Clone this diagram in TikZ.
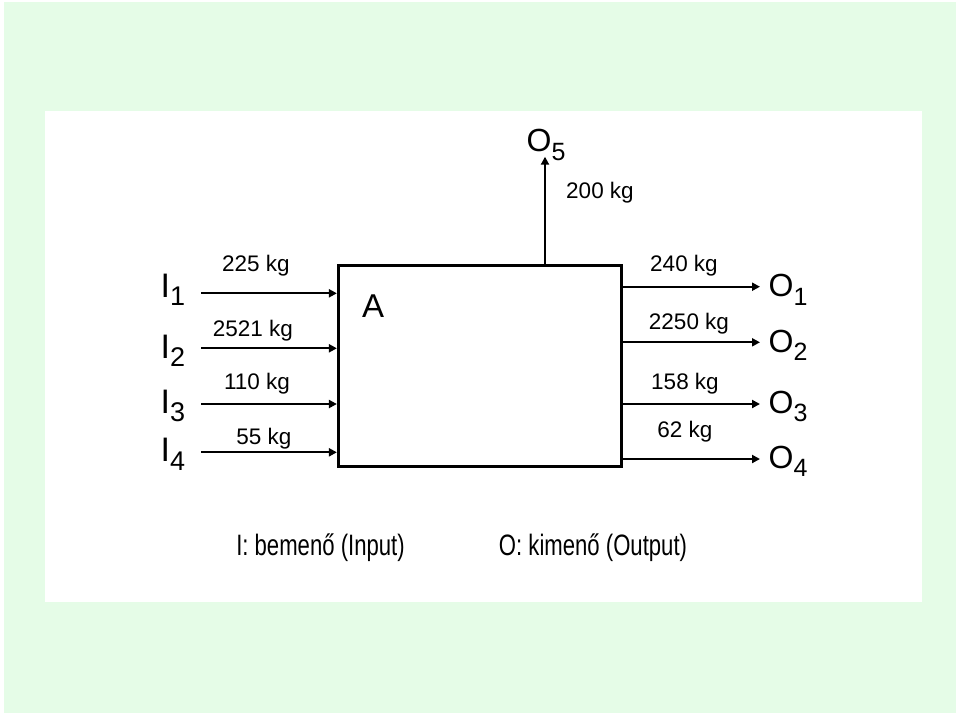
\documentclass[tikz,border=0pt]{standalone}
\usepackage{fontspec}
\setmainfont{Liberation Sans}
\newfontfamily\narrowfont[FakeStretch=0.75]{Liberation Sans}
\usetikzlibrary{arrows.meta}
\definecolor{bggreen}{HTML}{E5FCE7}
\newcommand{\subs}[2]{\raisebox{-8.5pt}{\fontsize{#1}{#1}\selectfont #2}}
\tikzset{
  arr/.style={line width=2.2pt, -{Triangle[length=8pt,width=8pt]}},
  kg/.style={anchor=base, inner sep=0pt, font=\fontsize{22.5}{22.5}\selectfont},
  io/.style={anchor=base west, inner sep=0pt, font=\fontsize{34}{34}\selectfont},
  ol/.style={anchor=base west, inner sep=0pt, font=\fontsize{32}{32}\selectfont},
  legend/.style={anchor=base, inner sep=0pt, font=\narrowfont\fontsize{29.5}{29.5}\selectfont},
  boxst/.style={draw, line width=2.8pt, inner sep=0pt, minimum width=283.4pt, minimum height=201pt},
}
\begin{document}
\begin{tikzpicture}[x=1pt,y=-1pt]
\useasboundingbox (0,0) rectangle (960,716);
\fill[white] (0,0) rectangle (960,716);
\fill[bggreen] (4,2) rectangle (956,713);
\fill[white] (45,111) rectangle (921.7,601.7);

\node[boxst] (box) at (480,366.2) {};
\node[anchor=base, inner sep=0pt, font=\fontsize{33}{33}\selectfont] (A) at (373,317) {A};

% inputs
\coordinate (i1) at (201,293.3);
\coordinate (i2) at (201,348.3);
\coordinate (i3) at (201,404);
\coordinate (i4) at (201,452.3);
\draw[arr] (i1) -- (i1 -| box.west);
\draw[arr] (i2) -- (i2 -| box.west);
\draw[arr] (i3) -- (i3 -| box.west);
\draw[arr] (i4) -- (i4 -| box.west);

\node[io] (I1) at (160.5,297.3) {I\subs{27}{1}};
\node[io] (I2) at (160.5,358.3) {I\subs{27}{2}};
\node[io] (I3) at (160.5,413.3) {I\subs{27}{3}};
\node[io] (I4) at (160.5,461.7) {I\subs{27}{4}};

\node[kg] (k1) at (256,271.7) {225 kg};
\node[kg] (k2) at (253,336.7) {2521 kg};
\node[kg] (k3) at (257,389) {110 kg};
\node[kg] (k4) at (264,444) {55 kg};

% outputs
\coordinate (o1) at (760,286.7);
\coordinate (o2) at (760,342.3);
\coordinate (o3) at (760,404);
\coordinate (o4) at (760,459);
\coordinate (o5) at (545,156.7);
\draw[arr] (o1 -| box.east) -- (o1);
\draw[arr] (o2 -| box.east) -- (o2);
\draw[arr] (o3 -| box.east) -- (o3);
\draw[arr] (o4 -| box.east) -- (o4);
\draw[arr] (o5 |- box.north) -- (o5);

\node[ol] (O1) at (768.5,296.7) {O\subs{25}{1}};
\node[ol] (O2) at (768.5,352.3) {O\subs{25}{2}};
\node[ol] (O3) at (768.5,413.3) {O\subs{25}{3}};
\node[ol] (O4) at (768.5,468.3) {O\subs{25}{4}};
\node[ol] (O5) at (526.5,151.7) {O\subs{25}{5}};

\node[kg] (m1) at (684,271.7) {240 kg};
\node[kg] (m2) at (689,329) {2250 kg};
\node[kg] (m3) at (685,389) {158 kg};
\node[kg] (m4) at (685,437.3) {62 kg};
\node[kg] (m5) at (600,198.3) {200 kg};

% legend
\node[legend] (L1) at (320.5,555) {I: bemenő (Input)};
\node[legend] (L2) at (593,555) {O: kimenő (Output)};
\end{tikzpicture}
\end{document}
